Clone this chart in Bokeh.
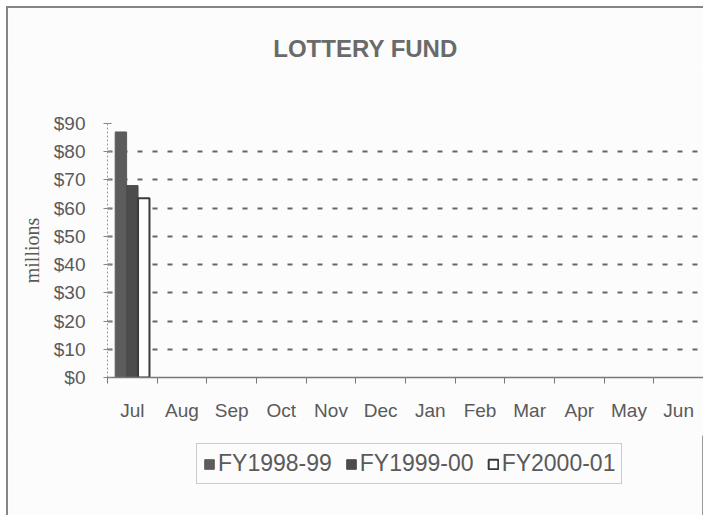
from bokeh.plotting import figure
from bokeh.layouts import column
from bokeh.models import (ColumnDataSource, Range1d, FixedTicker, NumeralTickFormatter,
                          CustomJSTickFormatter, Legend, LegendItem, Label)
from bokeh.embed import file_html
from bokeh.resources import INLINE

# ---- data ----
months = ["Jul", "Aug", "Sep", "Oct", "Nov", "Dec", "Jan", "Feb", "Mar", "Apr", "May", "Jun"]
series_names = ["FY1998-99", "FY1999-00", "FY2000-01"]
fy1998_99 = [87]
fy1999_00 = [68]
fy2000_01 = [63.5]
y_ticks = [0, 10, 20, 30, 40, 50, 60, 70, 80, 90]
title_text = "LOTTERY FUND"
y_label = "millions"

BG = "#fcfcfc"
TXT = "#5a5a5a"
FONT = "Liberation Sans"
W = 695

# ---- title strip ----
tf = figure(width=W, height=62, x_axis_type=None, y_axis_type=None, output_backend="svg",
            toolbar_location=None, min_border=0, outline_line_color=None,
            background_fill_color=BG, border_fill_color=BG)
tf.grid.visible = False
tf.add_layout(Label(x=258, y=22, x_units="screen", y_units="screen", text=title_text,
                    text_align="center", text_baseline="middle", text_font=FONT,
                    text_font_size="24px", text_font_style="bold", text_color="#6a6a6a"))

# ---- main chart ----
p = figure(frame_width=596, frame_height=254,
           x_range=Range1d(0, len(months)), y_range=Range1d(y_ticks[0], y_ticks[-1]),
           output_backend="svg", toolbar_location=None,
           min_border_left=99, min_border_right=0, min_border_top=53, min_border_bottom=58,
           background_fill_color=BG, border_fill_color=BG, outline_line_color=None)

width = 0.23
series = [fy1998_99, fy1999_00, fy2000_01]
offsets = [-width, 0, width]
fills = ["#5c5c5c", "#4c4c4c", "#ffffff"]
lines = ["#5c5c5c", "#4c4c4c", "#3a3a3a"]
for vals, off, fc, lc in zip(series, offsets, fills, lines):
    src = ColumnDataSource(dict(x=[months.index(m) + 0.5 + off for m in months[:len(vals)]], top=vals))
    p.vbar(x="x", top="top", bottom=0, width=width, source=src,
           fill_color=fc, line_color=lc, line_width=2 if fc == "#ffffff" else 1)

xa = p.xaxis[0]
xa.ticker = FixedTicker(ticks=[i + 0.5 for i in range(len(months))],
                        minor_ticks=list(range(len(months) + 1)))
xa.formatter = CustomJSTickFormatter(args=dict(labels=months),
                                     code="const i = Math.floor(tick); return (i >= 0 && i < labels.length) ? labels[i] : '';")
xa.major_tick_line_color = None
xa.major_tick_in = 0
xa.major_tick_out = 0
xa.minor_tick_in = 0
xa.minor_tick_out = 6
xa.minor_tick_line_color = "#777777"
xa.axis_line_color = "#777777"
xa.axis_line_width = 1.5
xa.major_label_standoff = 16
xa.major_label_text_font = FONT
xa.major_label_text_font_size = "19px"
xa.major_label_text_color = TXT

ya = p.yaxis[0]
ya.ticker = FixedTicker(ticks=y_ticks)
ya.formatter = NumeralTickFormatter(format="$0")
ya.axis_line_color = "#9a9a9a"
ya.axis_line_dash = "2 2"
ya.major_tick_in = 4
ya.major_tick_out = 4
ya.major_tick_line_color = "#888888"
ya.minor_tick_line_color = None
ya.major_label_standoff = 18
ya.major_label_text_font = FONT
ya.major_label_text_font_size = "19px"
ya.major_label_text_color = TXT
ya.axis_label = y_label
ya.axis_label_text_font = "Liberation Serif"
ya.axis_label_text_font_style = "normal"
ya.axis_label_text_font_size = "20px"
ya.axis_label_text_color = TXT
ya.axis_label_standoff = 8

p.xgrid.grid_line_color = None
p.ygrid.ticker = FixedTicker(ticks=y_ticks[1:-1])
p.ygrid.grid_line_color = "#666666"
p.ygrid.grid_line_width = 2
p.ygrid.grid_line_dash = "5 10"

# ---- legend strip (proxy bars kept outside its visible range) ----
lf = figure(width=W, height=80, x_range=Range1d(-10, -9), y_range=Range1d(0, 1),
            x_axis_type=None, y_axis_type=None, output_backend="svg",
            toolbar_location=None, min_border=0, outline_line_color=None,
            background_fill_color=BG, border_fill_color=BG)
lf.grid.visible = False
proxies = []
for vals, off, fc, lc in zip(series, offsets, fills, lines):
    src = ColumnDataSource(dict(x=[months.index(m) + 0.5 + off for m in months[:len(vals)]], top=vals))
    proxies.append(lf.vbar(x="x", top="top", bottom=0, width=width, source=src,
                           fill_color=fc, line_color=lc, line_width=2 if fc == "#ffffff" else 1))
legend = Legend(items=[LegendItem(label=n, renderers=[r]) for n, r in zip(series_names, proxies)],
                orientation="horizontal", location=(89, 31),
                label_text_font=FONT, label_text_font_size="23px", label_text_color=TXT,
                glyph_width=12, glyph_height=12, label_standoff=3, spacing=13, padding=6,
                margin=0, border_line_color="#999999", background_fill_color=BG)
lf.add_layout(legend, "center")

layout = column(tf, p, lf, spacing=0,
                styles={"margin-left": "6px", "margin-top": "6px",
                        "border-left": "2px solid #858585", "border-top": "2px solid #858585"})

open("out.html", "w").write(file_html(layout, INLINE))
